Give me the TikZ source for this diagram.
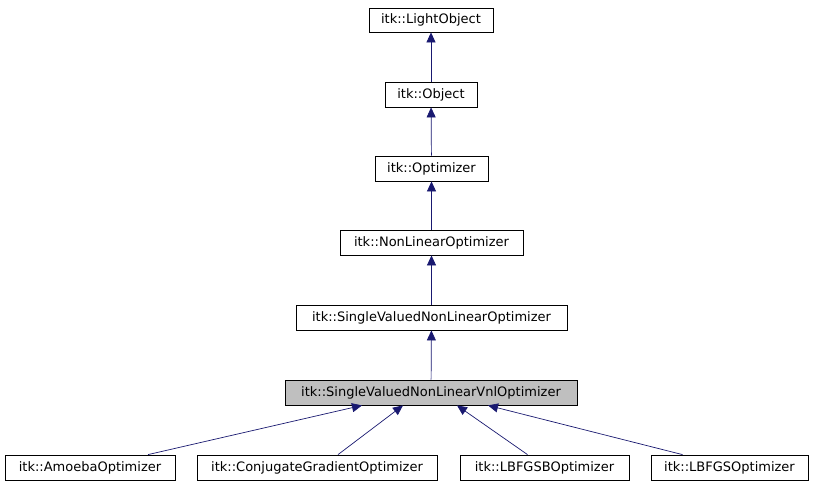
\documentclass[tikz,border=0pt]{standalone}
\usepackage{fontspec}
\setmainfont{DejaVu Sans}
\usetikzlibrary{arrows.meta}
\definecolor{edgecol}{HTML}{191970}
\definecolor{fillgray}{HTML}{BFBFBF}
\tikzset{
  cls/.style={draw=black, line width=0.8pt, fill=white, inner sep=0pt, font=\fontsize{13}{15}\selectfont, anchor=center},
  inh/.style={draw=edgecol, line width=0.7pt, -{Triangle[length=10pt,width=9pt]}, shorten >=0pt}
}
\begin{document}
\begin{tikzpicture}[x=1pt,y=-1pt]
\useasboundingbox (0,0) rectangle (813,485);
\node[cls, minimum width=124pt, minimum height=24pt] (light) at (431,20) {itk::LightObject};
\node[cls, minimum width=92pt, minimum height=25pt] (object) at (431,94.5) {itk::Object};
\node[cls, minimum width=113pt, minimum height=25pt] (opt) at (431.5,168.5) {itk::Optimizer};
\node[cls, minimum width=183pt, minimum height=25pt] (nlo) at (431.5,242.5) {itk::NonLinearOptimizer};
\node[cls, minimum width=271pt, minimum height=25pt] (svnlo) at (431.5,317.5) {itk::SingleValuedNonLinearOptimizer};
\node[cls, fill=fillgray, minimum width=292pt, minimum height=25pt] (vnl) at (431,392.5) {itk::SingleValuedNonLinearVnlOptimizer};
\node[cls, minimum width=170pt, minimum height=25pt] (amoeba) at (90,467.5) {itk::AmoebaOptimizer};
\node[cls, minimum width=240pt, minimum height=25pt] (cg) at (317,467.5) {itk::ConjugateGradientOptimizer};
\node[cls, minimum width=169pt, minimum height=25pt] (lbfgsb) at (544.5,467.5) {itk::LBFGSBOptimizer};
\node[cls, minimum width=157pt, minimum height=25pt] (lbfgs) at (729.5,467.5) {itk::LBFGSOptimizer};

\draw[inh] (object) -- (light);
\draw[inh] (opt) -- (object);
\draw[inh] (nlo) -- (opt);
\draw[inh] (svnlo) -- (nlo);
\draw[inh] (vnl) -- (svnlo);
\draw[inh] ([xshift=58pt]amoeba.north) -- ([xshift=-69pt]vnl.south);
\draw[inh] ([xshift=21pt]cg.north) -- ([xshift=-28pt]vnl.south);
\draw[inh] ([xshift=-17pt]lbfgsb.north) -- ([xshift=26pt]vnl.south);
\draw[inh] ([xshift=-47pt]lbfgs.north) -- ([xshift=57pt]vnl.south);
\end{tikzpicture}
\end{document}
